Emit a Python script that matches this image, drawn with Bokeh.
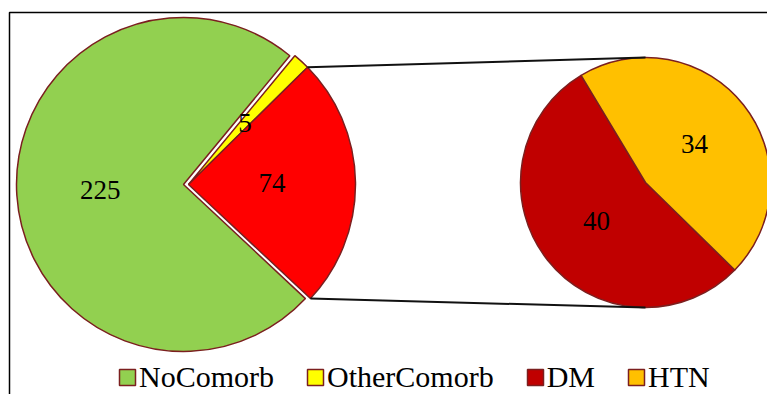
import math
from bokeh.plotting import figure
from bokeh.models import ColumnDataSource, Range1d, Legend, LegendItem
from bokeh.embed import file_html
from bokeh.resources import INLINE
from bokeh.core.properties import value

# ---- data ----
main_labels = ["NoComorb", "OtherComorb", "Comorb"]   # last slice is split into the second pie
main_values = [225, 5, 74]
main_colors = ["#92D050", "#FFFF00", "#FF0000"]
sub_labels = ["DM", "HTN"]
sub_values = [40, 34]
sub_colors = ["#C00000", "#FFC000"]

# ---- layout ----
W, H = 767, 394
def Y(y):
    return H - y

MCX, MCY, R1 = 183, Y(184), 167
EXPLODE = 5
SCX, SCY, R2 = 645, Y(182), 125
SPLIT_START = math.radians(-43.1)
SUB_START = math.radians(121.0)
OUTLINE = "#7B1F1F"
FONT = "'Liberation Serif', 'Times New Roman', serif"

p = figure(width=W, height=H, x_range=Range1d(0, W), y_range=Range1d(0, H),
           output_backend="svg", toolbar_location=None, min_border=0)
p.axis.visible = False
p.grid.visible = False
p.outline_line_color = None
p.background_fill_color = "white"

# main pie: angles counter-clockwise starting with split slice, then others in reverse order
total = sum(main_values)
spans = [v / total * 2 * math.pi for v in main_values]
order = [2, 1, 0]
starts = [0.0] * 3
ends = [0.0] * 3
a = SPLIT_START
for i in order:
    starts[i] = a
    ends[i] = a + spans[i]
    a = ends[i]
bis_split = (starts[2] + ends[2]) / 2
ex, ey = EXPLODE * math.cos(bis_split), EXPLODE * math.sin(bis_split)
cx = [MCX, MCX + ex, MCX + ex]
cy = [MCY, MCY + ey, MCY + ey]
main_src = ColumnDataSource(dict(x=cx, y=cy, start=starts, end=ends,
                                 color=main_colors, label=main_labels))
r_main = p.wedge(x="x", y="y", radius=R1, start_angle="start", end_angle="end",
                 fill_color="color", line_color=OUTLINE, line_width=1.5, source=main_src)

# secondary pie
stot = sum(sub_values)
s_starts, s_ends = [], []
a = SUB_START
for v in sub_values:
    s_starts.append(a)
    a = a + v / stot * 2 * math.pi
    s_ends.append(a)
sub_src = ColumnDataSource(dict(x=[SCX] * 2, y=[SCY] * 2, start=s_starts, end=s_ends,
                                color=sub_colors, label=sub_labels))
r_sub = p.wedge(x="x", y="y", radius=R2, start_angle="start", end_angle="end",
                fill_color="color", line_color=OUTLINE, line_width=1.5, source=sub_src)

# connector lines
ux0 = cx[2] + R1 * math.cos(ends[2]); uy0 = cy[2] + R1 * math.sin(ends[2])
lx0 = cx[2] + R1 * math.cos(starts[2]); ly0 = cy[2] + R1 * math.sin(starts[2])
p.segment(x0=[ux0, lx0], y0=[uy0, ly0], x1=[SCX, SCX], y1=[SCY + R2, SCY - R2],
          line_color="#111111", line_width=2)

# data labels
lx, ly, lt = [], [], []
for i in range(3):
    b = (starts[i] + ends[i]) / 2
    lx.append(cx[i] + 0.5 * R1 * math.cos(b))
    ly.append(cy[i] + 0.5 * R1 * math.sin(b))
    lt.append(str(main_values[i]))
for i in range(2):
    b = (s_starts[i] + s_ends[i]) / 2
    lx.append(SCX + 0.5 * R2 * math.cos(b))
    ly.append(SCY + 0.5 * R2 * math.sin(b))
    lt.append(str(sub_values[i]))
p.text(x=lx, y=ly, text=lt, text_font=value(FONT), text_font_size="27px",
       text_align="center", text_baseline="middle", text_color="black")

# frame border
p.line(x=[9, 9, W + 5], y=[-5, Y(12), Y(12)], line_color="black", line_width=1.5)

legend = Legend(items=[
    LegendItem(label="NoComorb", renderers=[r_main], index=0),
    LegendItem(label="OtherComorb", renderers=[r_main], index=1),
    LegendItem(label="DM", renderers=[r_sub], index=0),
    LegendItem(label="HTN", renderers=[r_sub], index=1),
], orientation="horizontal", location=(117, 0), glyph_width=20, glyph_height=20,
    label_standoff=2, spacing=31, padding=0, margin=0, border_line_color=None,
    background_fill_alpha=0, label_text_font=FONT, label_text_font_size="30px",
    label_text_color="black")
p.add_layout(legend)

open("out.html", "w").write(file_html(p, INLINE))
